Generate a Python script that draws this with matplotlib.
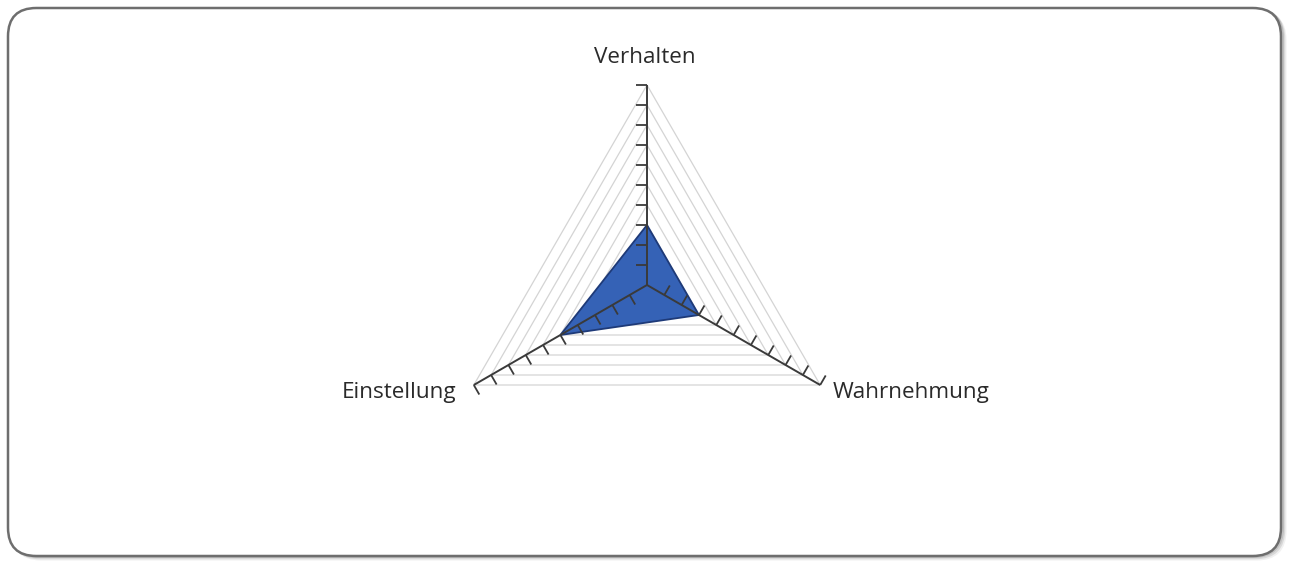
import numpy as np
import matplotlib
matplotlib.use("Agg")
import matplotlib.pyplot as plt
from matplotlib.patches import FancyBboxPatch, Polygon

categories = ["Verhalten", "Wahrnehmung", "Einstellung"]
values = [3, 3, 5]
scale_max = 10
scale_step = 1

W, H, DPI = 1290, 564, 100
fig = plt.figure(figsize=(W / DPI, H / DPI), dpi=DPI)
fig.patch.set_facecolor("white")

# rounded frame with soft shadow
for i, a in enumerate([0.08, 0.14, 0.22]):
    off = (3 - i) * 1.3
    sh = FancyBboxPatch((9 / W + off / W, 9 / H - off / H), 1272 / W, 547 / H,
                        boxstyle="round,pad=0,rounding_size=0.022",
                        transform=fig.transFigure, facecolor="none",
                        edgecolor=(0.3, 0.3, 0.3, a), linewidth=2.4,
                        mutation_aspect=W / H, zorder=-3)
    fig.add_artist(sh)
frame = FancyBboxPatch((8 / W, 8 / H), 1273 / W, 548 / H,
                       boxstyle="round,pad=0,rounding_size=0.022",
                       transform=fig.transFigure, facecolor="white",
                       edgecolor="#6e6e6e", linewidth=1.8, mutation_aspect=W / H,
                       zorder=-2)
fig.add_artist(frame)

ax = fig.add_axes([0, 0, 1, 1])
ax.set_zorder(5)
ax.set_facecolor("none")
ax.patch.set_alpha(0)
px = 20.0
cx, cy = 647, 285
ax.set_xlim(-cx / px, (W - cx) / px)
ax.set_ylim(-(H - cy) / px, cy / px)
ax.axis("off")

n = len(categories)
angles = np.pi / 2 - np.arange(n) * 2 * np.pi / n
dirs = np.column_stack([np.cos(angles), np.sin(angles)])

# gridlines (concentric triangles)
levels = np.arange(scale_step, scale_max + scale_step / 2, scale_step)
for r in levels:
    pts = dirs * r
    ax.add_patch(Polygon(pts, closed=True, fill=False, edgecolor="#d4d4d4",
                         linewidth=0.9, zorder=1))

# data polygon
vals = np.array(values, dtype=float)
ax.add_patch(Polygon(dirs * vals[:, None], closed=True, facecolor="#3562b6",
                     edgecolor="#1e3a78", linewidth=1.3, zorder=2))

# axes and ticks
tick_len = 0.55
for d in dirs:
    ax.plot([0, d[0] * scale_max], [0, d[1] * scale_max], color="#3a3a3a",
            linewidth=1.4, zorder=3, solid_capstyle="butt")
    perp = np.array([-d[1], d[0]])
    for r in levels:
        p = d * r
        q = p + perp * tick_len
        ax.plot([p[0], q[0]], [p[1], q[1]], color="#3a3a3a", linewidth=1.3,
                zorder=3, solid_capstyle="butt")

# category labels
font = dict(family=["Open Sans", "DejaVu Sans"], fontsize=16.2, color="#2a2a2a")
ends = dirs * scale_max
ax.text(ends[0, 0] - 0.1, ends[0, 1] + 1.38, categories[0], ha="center", va="center", **font)
ax.text(ends[1, 0] + 0.6, ends[1, 1] - 0.38, categories[1], ha="left", va="center", **font)
ax.text(ends[2, 0] - 0.85, ends[2, 1] - 0.38, categories[2], ha="right", va="center", **font)

fig.savefig("out.png", dpi=DPI, facecolor="white")
